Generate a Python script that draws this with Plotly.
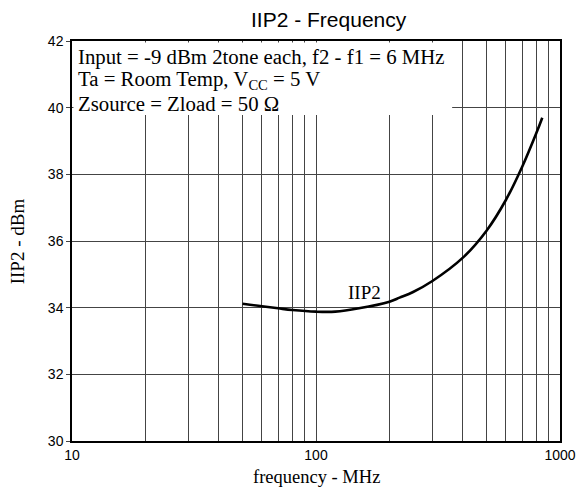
import plotly.graph_objects as go

freq_mhz = [50, 60, 70, 80, 100, 120, 150, 200, 220, 250, 300, 400, 500, 600, 700, 800, 846]
iip2_dbm = [34.12, 34.04, 33.98, 33.93, 33.88, 33.88, 33.98, 34.18, 34.3, 34.47, 34.8, 35.5, 36.31, 37.23, 38.23, 39.24, 39.7]

x_grid = [10, 20, 30, 40, 50, 60, 70, 80, 90, 100, 200, 300, 400, 500, 600, 700, 800, 900, 1000]
x_labels = ["10", "", "", "", "", "", "", "", "", "100", "", "", "", "", "", "", "", "", "1000"]
y_ticks = [30, 32, 34, 36, 38, 40, 42]

serif = "Liberation Serif, Times New Roman, serif"
sans = "Liberation Sans, Arial, sans-serif"

fig = go.Figure()
fig.add_trace(go.Scatter(
    x=freq_mhz, y=iip2_dbm, mode="lines",
    line=dict(color="black", width=2.6, shape="spline", smoothing=1.0),
    showlegend=False, hoverinfo="skip"))

fig.update_layout(
    width=579, height=493,
    margin=dict(l=72, r=19, t=41, b=52, autoexpand=False),
    paper_bgcolor="white", plot_bgcolor="white",
    showlegend=False,
    xaxis=dict(type="log", range=[1, 3], tickvals=x_grid, ticktext=x_labels,
               showgrid=True, gridcolor="#444444", gridwidth=1,
               showline=True, linecolor="black", linewidth=1.5, mirror=True,
               ticks="", zeroline=False, automargin=False,
               tickfont=dict(family=sans, size=14, color="black")),
    yaxis=dict(range=[30, 42], tickvals=y_ticks,
               showgrid=True, gridcolor="#444444", gridwidth=1,
               showline=True, linecolor="black", linewidth=1.5, mirror=True,
               ticks="outside", ticklen=4, tickcolor="#444444", zeroline=False,
               automargin=False,
               tickfont=dict(family=sans, size=14, color="black")),
)

# white box behind the condition text (covers gridlines, keeps axis lines)
fig.add_shape(type="rect", xref="paper", yref="paper", x0=0.003, x1=0.779, y0=0.815, y1=0.996,
              fillcolor="white", line=dict(width=0), layer="above")

fig.add_annotation(text="IIP2 - Frequency", xref="paper", yref="paper", x=0.527, y=1.055,
                   xanchor="center", yanchor="middle", showarrow=False,
                   font=dict(family=sans, size=21, color="black"))

fig.add_annotation(text="frequency - MHz", xref="paper", yref="paper", x=0.5, y=-0.09,
                   xanchor="center", yanchor="middle", showarrow=False,
                   font=dict(family=serif, size=18.5, color="black"))

fig.add_annotation(text="IIP2 - dBm", xref="paper", yref="paper", x=-0.112, y=0.5,
                   xanchor="center", yanchor="middle", showarrow=False, textangle=-90,
                   font=dict(family=serif, size=19, color="black"))

lines = ["Input = -9 dBm 2tone each, f2 - f1 = 6 MHz",
         "Ta = Room Temp, V<sub>CC</sub> = 5 V",
         "Zsource = Zload = 50 Ω"]
line_y = [0.96, 0.9025, 0.845]
for t, yy in zip(lines, line_y):
    fig.add_annotation(text=t, xref="paper", yref="paper",
                       x=0.009, y=yy, xanchor="left", yanchor="middle",
                       showarrow=False, font=dict(family=serif, size=20.8, color="black"))

fig.add_annotation(text="IIP2", x=2.2, y=34.45, xref="x", yref="y",
                   xanchor="center", yanchor="middle", showarrow=False,
                   font=dict(family=serif, size=19, color="black"))

fig.write_html("out.html", config={"displayModeBar": False},
               post_script="document.body.style.margin='0';document.body.style.overflow='hidden';")
